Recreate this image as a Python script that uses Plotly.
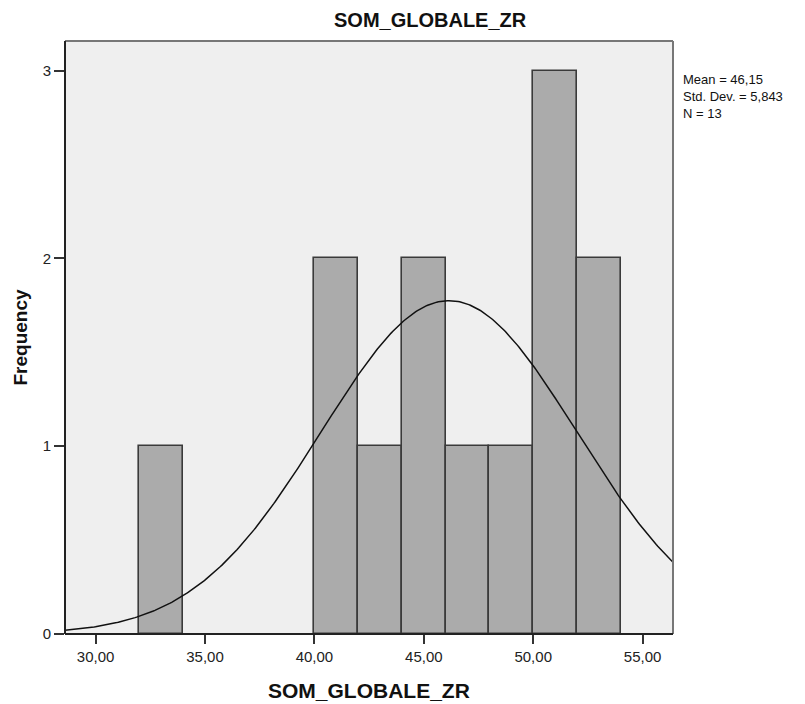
import numpy as np
import plotly.graph_objects as go

# Histogram bins (width 2) and their frequencies
bin_starts = [32, 40, 42, 44, 46, 48, 50, 52]
counts = [1, 2, 1, 2, 1, 1, 3, 2]
bin_width = 2

# Summary statistics shown next to the plot
mean_val = 46.15
std_val = 5.843
n_val = 13
stats_lines = ["Mean = 46,15", "Std. Dev. = 5,843", "N = 13"]

x_tick_vals = [30, 35, 40, 45, 50, 55]
x_tick_text = ["30,00", "35,00", "40,00", "45,00", "50,00", "55,00"]
y_tick_vals = [0, 1, 2, 3]

x_range = [28.6, 56.39]
y_range = [0, 3.158]

FONT = "Liberation Sans, Arial, sans-serif"

centers = [s + bin_width / 2 for s in bin_starts]

fig = go.Figure()
fig.add_trace(go.Bar(
    x=centers, y=counts, width=bin_width,
    marker=dict(color="#ababab", line=dict(color="#3a3a3a", width=1.6)),
    hoverinfo="skip", showlegend=False,
))

# Fitted normal curve scaled to counts per bin
xs = np.linspace(x_range[0], x_range[1], 400)
ys = n_val * bin_width / (std_val * np.sqrt(2 * np.pi)) * np.exp(-0.5 * ((xs - mean_val) / std_val) ** 2)
fig.add_trace(go.Scatter(
    x=xs, y=ys, mode="lines", line=dict(color="#111111", width=1.5),
    hoverinfo="skip", showlegend=False,
))

plot_top, plot_bottom = 41, 634
plot_h = plot_bottom - plot_top

annotations = [
    # chart title
    dict(xref="paper", yref="paper", x=(430 - 65) / 608, y=1, yshift=21,
         xanchor="center", yanchor="middle", showarrow=False,
         text="<b>SOM_GLOBALE_ZR</b>",
         font=dict(family=FONT, size=20, color="#111")),
    # x-axis title
    dict(xref="paper", yref="paper", x=0.5, y=0, yshift=-56,
         xanchor="center", yanchor="middle", showarrow=False,
         text="<b>SOM_GLOBALE_ZR</b>",
         font=dict(family=FONT, size=21, color="#111")),
    # y-axis title
    dict(xref="paper", yref="paper", x=0, xshift=-45, y=0.5,
         xanchor="center", yanchor="middle", showarrow=False, textangle=-90,
         text="<b>Frequency</b>",
         font=dict(family=FONT, size=19, color="#111")),
    # summary statistics block
    dict(xref="paper", yref="paper", x=1, xshift=9, y=1 - (96 - plot_top) / plot_h,
         xanchor="left", yanchor="middle", align="left", showarrow=False,
         text="<br>".join(stats_lines), borderpad=0,
         font=dict(family=FONT, size=13, color="#111")),
]

fig.update_layout(
    width=805, height=704,
    margin=dict(l=65, r=132, t=41, b=70),
    paper_bgcolor="white",
    plot_bgcolor="#efefef",
    bargap=0,
    xaxis=dict(range=x_range, tickvals=x_tick_vals, ticktext=x_tick_text,
               ticks="outside", ticklen=9, tickwidth=1.5, tickcolor="#333",
               showgrid=False, zeroline=False, showline=False,
               tickfont=dict(family=FONT, size=15, color="#222")),
    yaxis=dict(range=y_range, tickvals=y_tick_vals, ticks="outside", ticklen=10,
               tickwidth=1.5, tickcolor="#333", showgrid=False, zeroline=False,
               showline=False,
               tickfont=dict(family=FONT, size=15, color="#222")),
    shapes=[
        # grey top and right borders
        dict(type="line", xref="paper", yref="paper", x0=0, x1=1, y0=1, y1=1,
             line=dict(color="#777", width=2)),
        dict(type="line", xref="paper", yref="paper", x0=1, x1=1, y0=0, y1=1,
             line=dict(color="#777", width=2)),
        # dark left and bottom axis lines
        dict(type="line", xref="paper", yref="paper", x0=0, x1=0, y0=0, y1=1,
             line=dict(color="#222", width=2)),
        dict(type="line", xref="paper", yref="paper", x0=0, x1=1, y0=0, y1=0,
             line=dict(color="#222", width=2)),
    ],
    annotations=annotations,
)

fig.write_html("out.html")
